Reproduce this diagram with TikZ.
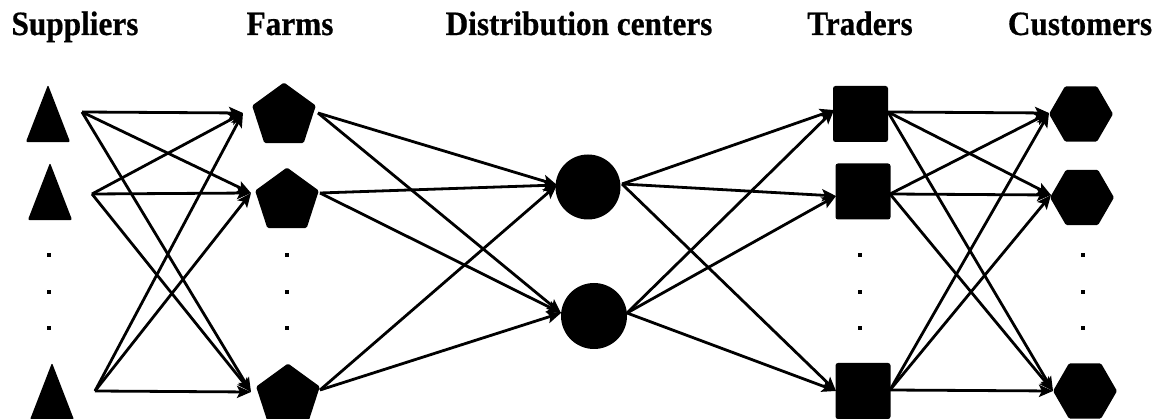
\documentclass[tikz,border=0pt]{standalone}
\usepackage{fontspec}
\newfontfamily\hdrfont{Liberation Serif}[FakeStretch=0.92,FakeBold=0.6]
\usetikzlibrary{arrows.meta,shapes.geometric}
\begin{document}
\begin{tikzpicture}[x=1pt,y=-1pt,
  hdr/.style={anchor=base, inner sep=0pt, font=\hdrfont\bfseries\fontsize{34}{40}\selectfont},
  flow/.style={line width=2.8pt, -{Stealth[length=14pt,width=12pt,inset=3pt]}},
  trislot/.style={minimum width=44pt, minimum height=57pt, inner sep=0pt},
  pent/.style={regular polygon, regular polygon sides=5, minimum size=67pt, fill=black, inner sep=0pt, rounded corners=1.5pt},
  hexa/.style={regular polygon, regular polygon sides=6, minimum size=64pt, fill=black, inner sep=0pt, rounded corners=1.5pt},
  dc/.style={circle, fill=black, inner sep=0pt},
  sq/.style={rectangle, fill=black, minimum width=55pt, minimum height=56pt, inner sep=0pt, rounded corners=2.5pt},
  vdot/.style={fill=black, minimum size=4pt, inner sep=0pt}
]
\useasboundingbox (0,0) rectangle (1163,419);
\clip (0,0) rectangle (1163,419);
% headers
\node[hdr] (h1) at (75,35) {Suppliers};
\node[hdr] (h2) at (290,35) {Farms};
\node[hdr] (h3) at (579,35) {Distribution centers};
\node[hdr] (h4) at (860,35) {Traders};
\node[hdr] (h5) at (1080,35) {Customers};
% suppliers (triangles)
\node[trislot] (s1) at (48,113.5) {};
\node[trislot] (s2) at (50,191.5) {};
\node[trislot] (s3) at (52,391.5) {};
\foreach \n in {s1,s2,s3}
  \fill[rounded corners=2pt] (\n.south west) -- (\n.north) -- (\n.south east) -- cycle;
% farms
\node[pent] (f1) at (284,116) {};
\node[pent] (f2) at (287,201) {};
\node[pent] (f3) at (288,397) {};
% distribution centres
\node[dc, minimum size=65pt] (d1) at (588,187) {};
\node[dc, minimum size=66pt] (d2) at (594,316) {};
% traders
\node[sq] (t1) at (860.5,114) {};
\node[sq] (t2) at (863,191.5) {};
\node[sq] (t3) at (863,391) {};
% customers
\node[hexa] (c1) at (1081,114) {};
\node[hexa] (c2) at (1082,197.5) {};
\node[hexa] (c3) at (1085,391) {};
% vertical dots
\foreach \x/\c in {49/a,287/b,860/c,1083/d}
  \foreach \y/\k in {255/1,292/2,328/3}
    \node[vdot] (dot\c\k) at (\x,\y) {};
% ports
\coordinate (s1o) at (82,112);
\coordinate (s2o) at (92,194);
\coordinate (s3o) at (95,391);
\coordinate (f1i) at (243,113);
\coordinate (f2i) at (251,193);
\coordinate (f3i) at (251,392);
\coordinate (f1o) at (318,113);
\coordinate (f2o) at (320,193);
\coordinate (f3o) at (320,390);
\coordinate (d1i) at (557,185);
\coordinate (d2i) at (561,313);
\coordinate (d1o) at (622,184);
\coordinate (d2o) at (627,313);
\coordinate (t1i) at (834,110);
\coordinate (t2i) at (836,196);
\coordinate (t3i) at (836,391);
\coordinate (t1o) at (888,112);
\coordinate (t2o) at (890,194);
\coordinate (t3o) at (890,390);
\coordinate (c1i) at (1049,113);
\coordinate (c2i) at (1051,195);
\coordinate (c3i) at (1053,391);
% connectors
\foreach \a in {s1o,s2o,s3o}
  \foreach \b in {f1i,f2i,f3i}
    \draw[flow] (\a) -- (\b);
\foreach \a in {f1o,f2o,f3o}
  \foreach \b in {d1i,d2i}
    \draw[flow] (\a) -- (\b);
\foreach \a in {d1o,d2o}
  \foreach \b in {t1i,t2i,t3i}
    \draw[flow] (\a) -- (\b);
\foreach \a in {t1o,t2o,t3o}
  \foreach \b in {c1i,c2i,c3i}
    \draw[flow] (\a) -- (\b);
\end{tikzpicture}
\end{document}
